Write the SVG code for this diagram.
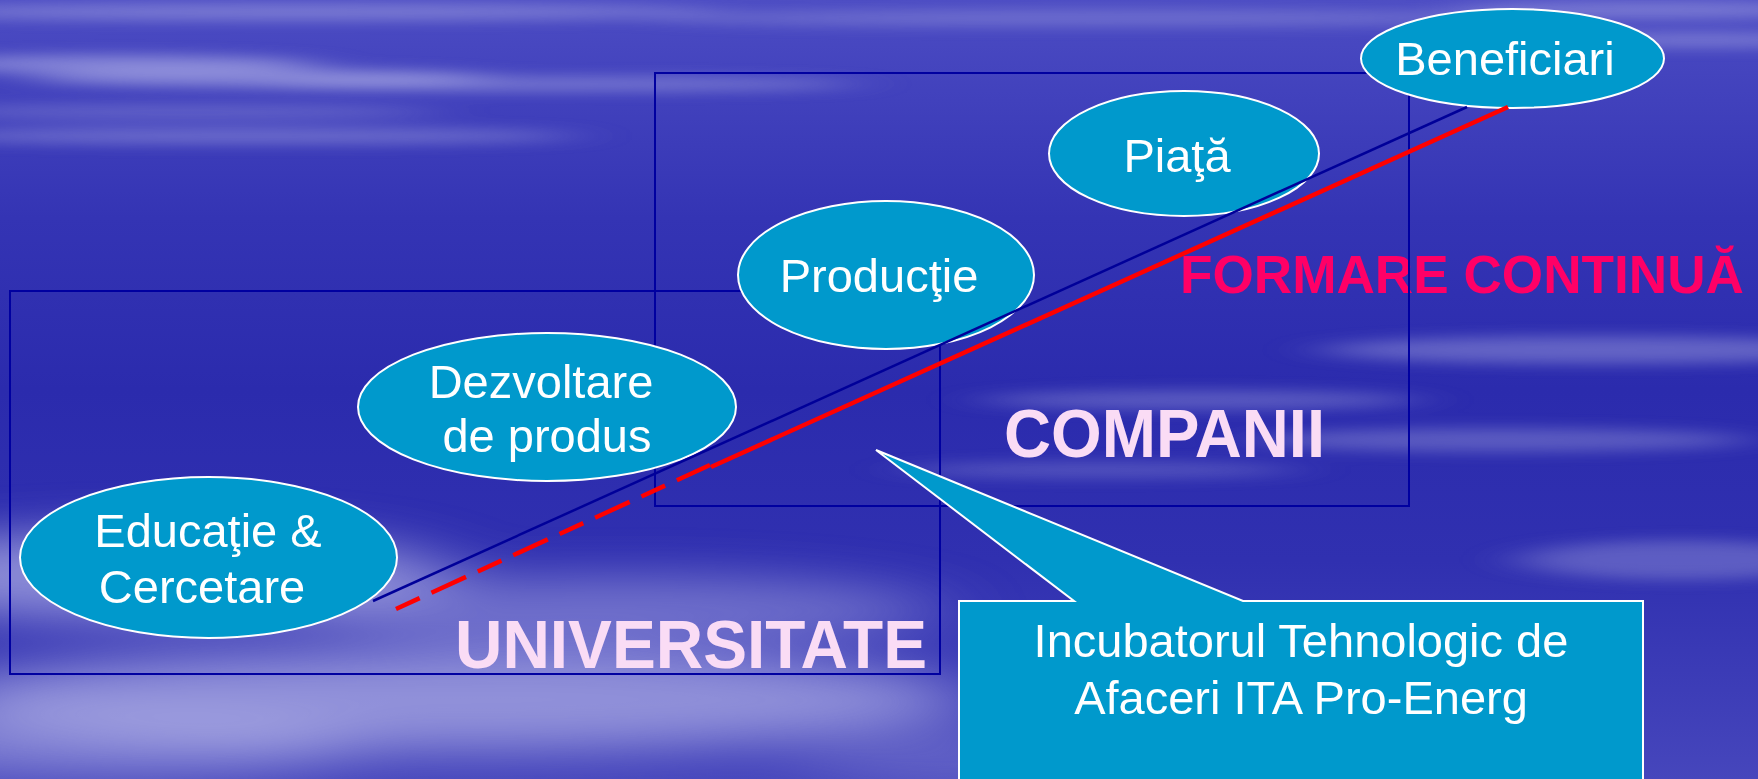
<svg xmlns="http://www.w3.org/2000/svg" width="1758" height="779" viewBox="0 0 1758 779">
<defs>
<linearGradient id="bg" x1="0" y1="0" x2="0" y2="1">
<stop offset="0" stop-color="#4C4CC3"/>
<stop offset="0.28" stop-color="#3434B4"/>
<stop offset="0.5" stop-color="#2B2BAD"/>
<stop offset="0.72" stop-color="#3030B0"/>
<stop offset="1" stop-color="#4646BC"/>
</linearGradient>
<filter id="blur" x="-50%" y="-200%" width="200%" height="500%">
<feGaussianBlur stdDeviation="30 7"/>
</filter>
<filter id="blur2" x="-50%" y="-100%" width="200%" height="300%">
<feGaussianBlur stdDeviation="45 22"/>
</filter>
<style>
.frame{fill:none;stroke:#0000A0;stroke-width:2}
.node{fill:#0099CC;stroke:#FFFFFF;stroke-width:2}
.nt{font-family:"Liberation Sans",Arial,sans-serif;font-size:47px;fill:#FFFFFF;text-anchor:middle}
.big{font-family:"Liberation Sans",Arial,sans-serif;font-weight:bold;fill:#FADCF5}
.streak{fill:#C8C8F0}
</style>
</defs>

<g id="background">
<rect width="1758" height="779" fill="url(#bg)"/>
<g filter="url(#blur)" class="streak">
<ellipse cx="300" cy="12" rx="420" ry="8" opacity="0.4"/>
<ellipse cx="1100" cy="18" rx="450" ry="8" opacity="0.3"/>
<ellipse cx="1650" cy="10" rx="200" ry="8" opacity="0.4"/>
<ellipse cx="120" cy="64" rx="200" ry="9" opacity="0.5"/>
<ellipse cx="260" cy="78" rx="230" ry="9" opacity="0.5"/>
<ellipse cx="560" cy="84" rx="300" ry="7" opacity="0.4"/>
<ellipse cx="250" cy="136" rx="330" ry="8" opacity="0.35"/>
<ellipse cx="180" cy="112" rx="260" ry="8" opacity="0.25"/>
<ellipse cx="1700" cy="40" rx="160" ry="7" opacity="0.4"/>
<ellipse cx="1600" cy="350" rx="280" ry="14" opacity="0.35"/>
<ellipse cx="1500" cy="440" rx="250" ry="12" opacity="0.3"/>
<ellipse cx="1200" cy="400" rx="220" ry="10" opacity="0.3"/>
<ellipse cx="1680" cy="560" rx="160" ry="20" opacity="0.3"/>
<ellipse cx="1100" cy="470" rx="200" ry="8" opacity="0.25"/>
</g>
<g filter="url(#blur2)" class="streak">
<ellipse cx="150" cy="575" rx="300" ry="45" opacity="0.6"/>
<ellipse cx="450" cy="700" rx="520" ry="50" opacity="0.6"/>
<ellipse cx="620" cy="610" rx="320" ry="35" opacity="0.4"/>
<ellipse cx="100" cy="745" rx="260" ry="30" opacity="0.45"/>
<ellipse cx="1000" cy="760" rx="200" ry="25" opacity="0.25"/>
</g>
</g>

<g id="labels">
<text class="big" x="1180" y="293" font-size="53" style="fill:#FF0066" textLength="564" lengthAdjust="spacingAndGlyphs">FORMARE CONTINUĂ</text>
<text class="big" x="1004" y="457" font-size="68" textLength="321" lengthAdjust="spacingAndGlyphs">COMPANII</text>
<text class="big" x="455" y="668" font-size="69" textLength="472" lengthAdjust="spacingAndGlyphs">UNIVERSITATE</text>
</g>

<g id="universitate">
<rect class="frame" x="10" y="291" width="930" height="383"/>
</g>
<g id="companii">
<rect class="frame" x="655" y="73" width="754" height="433"/>
</g>

<g id="educatie">
<ellipse class="node" cx="208.5" cy="557.5" rx="188.5" ry="80.5"/>
<text class="nt" x="208" y="547">Educaţie &amp;</text>
<text class="nt" x="202" y="603">Cercetare</text>
</g>
<g id="dezvoltare">
<ellipse class="node" cx="547" cy="407" rx="189" ry="74"/>
<text class="nt" x="541" y="398">Dezvoltare</text>
<text class="nt" x="547" y="452">de produs</text>
</g>
<g id="productie">
<ellipse class="node" cx="886" cy="275" rx="148" ry="74"/>
<text class="nt" x="879" y="292">Producţie</text>
</g>
<g id="piata">
<ellipse class="node" cx="1184" cy="153.5" rx="135" ry="62.5"/>
<text class="nt" x="1177" y="172">Piaţă</text>
</g>
<g id="beneficiari">
<ellipse class="node" cx="1512.5" cy="58.5" rx="151.5" ry="49.5"/>
<text class="nt" x="1505" y="75">Beneficiari</text>
</g>

<g id="connectors">
<line x1="373" y1="601" x2="1467" y2="107" stroke="#000099" stroke-width="2.5"/>
<line x1="396" y1="609" x2="710" y2="465" stroke="#FF0000" stroke-width="4.5" stroke-dasharray="26 13 38 13"/>
<line x1="711" y1="467" x2="1508" y2="107" stroke="#FF0000" stroke-width="4.5"/>
</g>

<g id="incubator">
<path d="M959,601 L1074,601 L876,450 L1243,601 L1643,601 L1643,790 L959,790 Z" fill="#0099CC" stroke="#FFFFFF" stroke-width="2"/>
<text class="nt" x="1301" y="657">Incubatorul Tehnologic de</text>
<text class="nt" x="1301" y="714">Afaceri ITA Pro-Energ</text>
</g>
</svg>
